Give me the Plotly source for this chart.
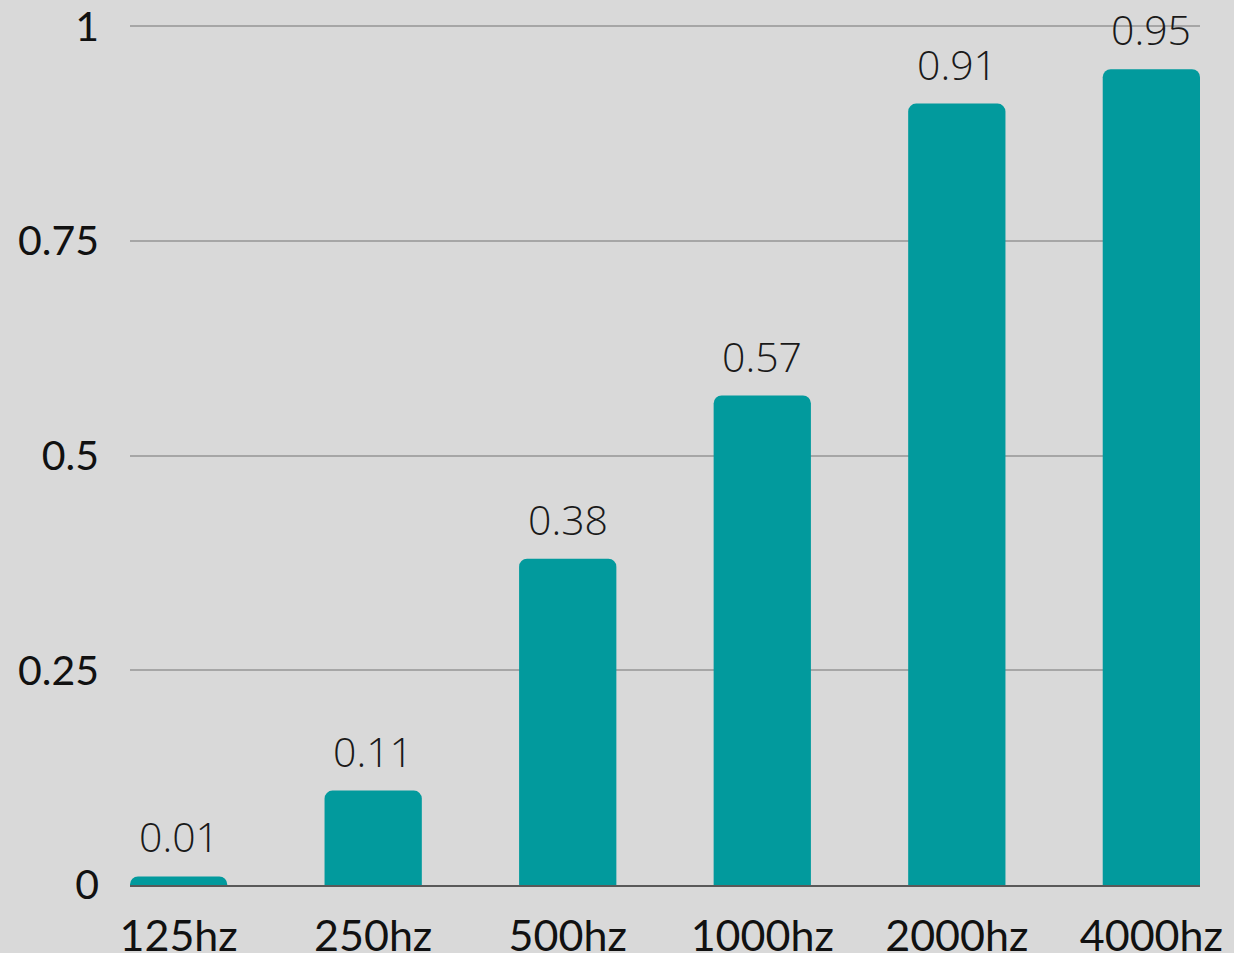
import plotly.graph_objects as go

categories = ["125hz", "250hz", "500hz", "1000hz", "2000hz", "4000hz"]
values = [0.01, 0.11, 0.38, 0.57, 0.91, 0.95]
label_text = ["0.01", "0.11", "0.38", "0.57", "0.91", "0.95"]
y_ticks = [0, 0.25, 0.5, 0.75, 1]
y_tick_labels = ["0", "0.25", "0.5", "0.75", "1"]

BG = "#d9d9d9"
BAR = "#029a9d"

fig = go.Figure()
fig.add_trace(go.Bar(
    x=list(range(len(categories))),
    y=values,
    width=0.5,
    marker=dict(color=BAR, line=dict(width=0), cornerradius=8),
    hoverinfo="skip",
))

for i, (v, t) in enumerate(zip(values, label_text)):
    fig.add_annotation(
        x=i, y=v, text=t, showarrow=False,
        xanchor="center", yanchor="bottom", yshift=10,
        font=dict(family="Open Sans", size=41, color="#1a1a1a", weight=300),
    )

fig.update_layout(
    width=1234, height=953,
    paper_bgcolor=BG, plot_bgcolor=BG,
    margin=dict(l=130, r=34, t=25, b=68, pad=0, autoexpand=False),
    showlegend=False,
    bargap=0.5,
)
fig.update_xaxes(
    range=[-0.25, 5.25], automargin=False,
    tickmode="array", tickvals=list(range(len(categories))), ticktext=categories,
    tickfont=dict(family="Lato", size=43, color="#111111"),
    showgrid=False, zeroline=False,
    showline=True, linecolor="#595959", linewidth=2,
    ticks="", ticklabelstandoff=12,
)
fig.update_yaxes(
    range=[0, 1.0015], automargin=False,
    tickmode="array", tickvals=y_ticks, ticktext=y_tick_labels,
    tickfont=dict(family="Lato", size=41, color="#111111"),
    showgrid=True, gridcolor="#a6a6a6", gridwidth=2,
    zeroline=False, showline=False, ticks="", ticklabelstandoff=30,
)
fig.update_traces(cliponaxis=False)

fig.write_html(
    "out.html",
    config={"displayModeBar": False},
    post_script="document.body.style.margin='0';document.body.style.overflow='hidden';",
)
